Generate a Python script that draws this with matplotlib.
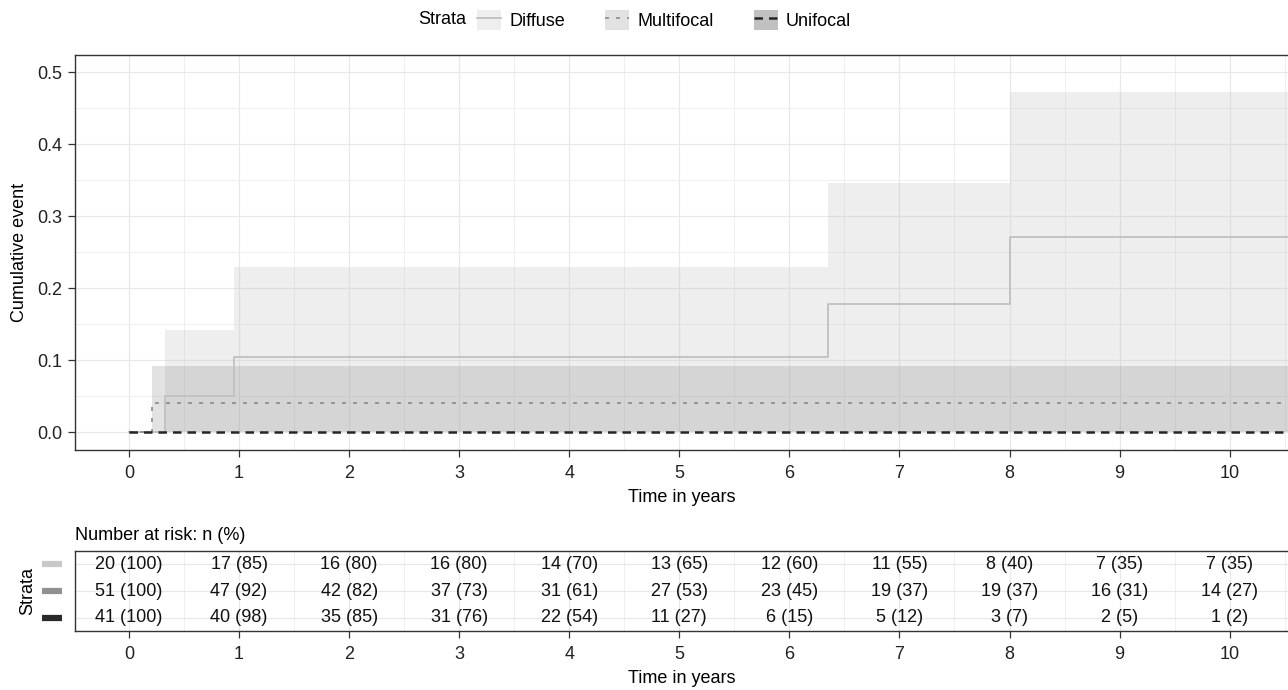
import numpy as np
import matplotlib.pyplot as plt
import matplotlib.transforms as mtransforms
from matplotlib.patches import Patch
from matplotlib.lines import Line2D
from matplotlib.ticker import MultipleLocator

plt.rcParams['font.family'] = ['Liberation Sans', 'DejaVu Sans']
plt.rcParams['font.size'] = 13

strata = ["Diffuse", "Multifocal", "Unifocal"]

# cumulative incidence step curves (time in years)
diffuse_t = [0, 0.33, 0.95, 6.35, 8.0, 10.6]
diffuse_y = [0, 0.050, 0.104, 0.178, 0.271, 0.271]
diffuse_lo = [0, 0, 0, 0, 0, 0]
diffuse_hi = [0, 0.142, 0.229, 0.346, 0.472, 0.472]

multi_t = [0, 0.21, 10.6]
multi_y = [0, 0.040, 0.040]
multi_lo = [0, 0, 0]
multi_hi = [0, 0.092, 0.092]

uni_t = [0, 10.6]
uni_y = [0, 0]
uni_lo = [0, 0]
uni_hi = [0, 0]

# number at risk table
risk_times = [0, 1, 2, 3, 4, 5, 6, 7, 8, 9, 10]
diffuse_n = [20, 17, 16, 16, 14, 13, 12, 11, 8, 7, 7]
diffuse_pct = [100, 85, 80, 80, 70, 65, 60, 55, 40, 35, 35]
multi_n = [51, 47, 42, 37, 31, 27, 23, 19, 19, 16, 14]
multi_pct = [100, 92, 82, 73, 61, 53, 45, 37, 37, 31, 27]
uni_n = [41, 40, 35, 31, 22, 11, 6, 5, 3, 2, 1]
uni_pct = [100, 98, 85, 76, 54, 27, 15, 12, 7, 5, 2]

line_cols = ["#c0c0c0", "#8a8a8a", "#262626"]
fill_cols = ["#bfbfbf", "#7f7f7f", "#333333"]
fill_alpha = [0.25, 0.22, 0.30]
styles = ["-", (0, (2.4, 4.2)), (0, (3.4, 2.4))]
widths = [1.3, 1.2, 1.8]
key_cols = ["#c8c8c8", "#909090", "#2a2a2a"]

W, H = 1288, 690
fig = plt.figure(figsize=(W / 100, H / 100), dpi=100)
ax = fig.add_axes([75 / W, 1 - 450 / H, 1 - 75 / W, (450 - 55) / H])
ax_tab = fig.add_axes([75 / W, 1 - 631 / H, 1 - 75 / W, (631 - 551) / H])

xlim = (-0.49, 10.53)


def style_axes(a):
    a.set_xlim(*xlim)
    a.xaxis.set_major_locator(MultipleLocator(1))
    a.xaxis.set_minor_locator(MultipleLocator(0.5))
    a.grid(which='major', color='#e8e8e8', lw=0.9, zorder=0)
    a.grid(which='minor', color='#efefef', lw=0.7, zorder=0)
    a.set_axisbelow(True)
    for s in ['left', 'bottom', 'top']:
        a.spines[s].set_color('#333333')
        a.spines[s].set_linewidth(1.0)
    a.spines['right'].set_visible(False)
    a.tick_params(which='major', length=5, width=0.9, color='#333333',
                  labelcolor='#222222', labelsize=13)
    a.tick_params(which='minor', length=0)
    a.tick_params(axis='x', pad=6)
    a.tick_params(axis='y', pad=4)
    a.set_xlabel("Time in years", fontsize=13, labelpad=5)


style_axes(ax)
ax.set_ylim(-0.025, 0.524)
ax.yaxis.set_major_locator(MultipleLocator(0.1))
ax.yaxis.set_minor_locator(MultipleLocator(0.05))
ax.yaxis.set_major_formatter(lambda v, p: f"{v:.1f}")
ax.set_ylabel("Cumulative event", fontsize=13, labelpad=7)

curves = [
    (diffuse_t, diffuse_y, diffuse_lo, diffuse_hi),
    (multi_t, multi_y, multi_lo, multi_hi),
    (uni_t, uni_y, uni_lo, uni_hi),
]
for i, (t, y, lo, hi) in enumerate(curves):
    ax.fill_between(t, lo, hi, step='post', color=fill_cols[i],
                    alpha=fill_alpha[i], lw=0, zorder=1)
for i, (t, y, lo, hi) in enumerate(curves):
    ax.step(t, y, where='post', color=line_cols[i], ls=styles[i],
            lw=widths[i], zorder=3)

# legend on top
handles = []
for i in range(3):
    handles.append((Patch(facecolor=fill_cols[i], alpha=fill_alpha[i], edgecolor='none'),
                    Line2D([], [], color=line_cols[i], ls=styles[i], lw=widths[i])))
fig.legend(handles, strata, ncol=3, loc='center left',
           bbox_to_anchor=(477 / W, 1 - 20 / H), frameon=False,
           handlelength=1.35, handleheight=1.35, handletextpad=0.45,
           columnspacing=2.2, borderpad=0, borderaxespad=0, fontsize=13)
fig.text(418 / W, 1 - 20 / H, "Strata", ha='left', va='center', fontsize=13)

# risk table
style_axes(ax_tab)
ax_tab.set_ylim(0.5, 3.5)
ax_tab.set_yticks([1, 2, 3])
ax_tab.set_yticklabels([])
ax_tab.tick_params(axis='y', length=0)
ax_tab.yaxis.set_minor_locator(MultipleLocator(10))
ax_tab.set_title("Number at risk: n (%)", loc='left', fontsize=13, pad=8)

rows = [(diffuse_n, diffuse_pct), (multi_n, multi_pct), (uni_n, uni_pct)]
row_y = [3, 2, 1]
for r, (ns, pcts) in enumerate(rows):
    for t, n, p in zip(risk_times, ns, pcts):
        ax_tab.text(t, row_y[r], f"{n} ({p})", ha='center', va='center',
                    fontsize=13, color='#111111')

trans = mtransforms.blended_transform_factory(ax_tab.transAxes, ax_tab.transData)
for r in range(3):
    ax_tab.plot([-33 / 1213, -13 / 1213], [row_y[r], row_y[r]], transform=trans,
                color=key_cols[r], lw=4.5, solid_capstyle='butt', clip_on=False)
ax_tab.text(-47 / 1213, 2, "Strata", transform=trans, rotation=90,
            ha='center', va='center', fontsize=13)

fig.savefig("out.png", dpi=100)
